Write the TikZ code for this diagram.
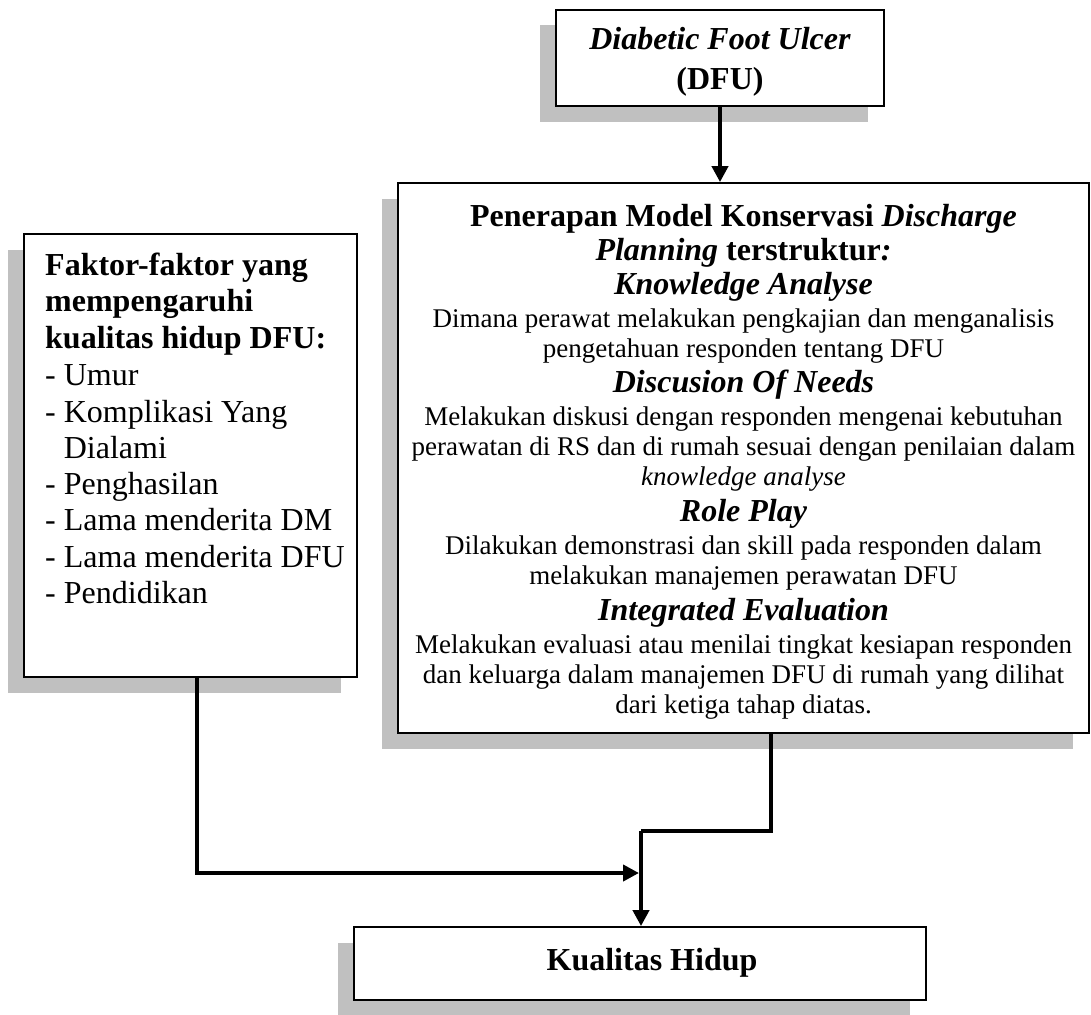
\documentclass[tikz,border=0pt]{standalone}
\usepackage{fontspec}
\setmainfont{Liberation Serif}
\usetikzlibrary{shadows,arrows.meta}
\definecolor{shgray}{RGB}{192,192,192}
\tikzset{
  box/.style={draw, line width=1.8pt, fill=white, inner sep=0pt,
    drop shadow={shadow xshift=-16.5pt, shadow yshift=-15.5pt, fill=shgray, opacity=1}},
  conn/.style={line width=4pt, line join=miter, -{Triangle[length=16pt,width=16pt]}},
  plainline/.style={line width=4pt, line join=miter},
  hd/.style={anchor=base, inner sep=0pt, font=\fontsize{32}{35}\selectfont\bfseries},
  bd/.style={anchor=base, inner sep=0pt, font=\fontsize{27}{30}\selectfont},
  lt/.style={anchor=base west, inner sep=0pt, font=\fontsize{32}{36}\selectfont},
}
\begin{document}
\begin{tikzpicture}[x=1pt,y=-1pt]
\useasboundingbox (0,0) rectangle (1091,1014);

% boxes
\node[box, minimum width=328pt, minimum height=96pt] (dfu) at (720,58) {};
\node[box, minimum width=691pt, minimum height=550pt] (main) at (743.5,458) {};
\node[box, minimum width=333pt, minimum height=443pt] (fak) at (190.5,455.5) {};
\node[box, minimum width=572pt, minimum height=73pt] (kual) at (640,963.5) {};

% DFU text
\node[anchor=base, inner sep=0pt, font=\fontsize{32}{35}\selectfont\bfseries] (d1) at (720,50) {\textit{Diabetic Foot Ulcer}};
\node[anchor=base, inner sep=0pt, font=\fontsize{32}{35}\selectfont\bfseries] (d2) at (720,90) {(DFU)};

% main box text
\node[hd] (m1) at (743.5,226) {Penerapan Model Konservasi \textit{Discharge}};
\node[hd] (m2) at (743.5,260) {\textit{Planning} terstruktur\textit{:}};
\node[hd] (m3) at (743.5,294) {\textit{Knowledge Analyse}};
\node[bd] (m4) at (743.5,327) {Dimana perawat melakukan pengkajian dan menganalisis};
\node[bd] (m5) at (743.5,357) {pengetahuan responden tentang DFU};
\node[hd] (m6) at (743.5,392) {\textit{Discusion Of Needs}};
\node[bd] (m7) at (743.5,425) {Melakukan diskusi dengan responden mengenai kebutuhan};
\node[bd] (m8) at (743.5,455) {perawatan di RS dan di rumah sesuai dengan penilaian dalam};
\node[bd] (m9) at (743.5,485) {\textit{knowledge analyse}};
\node[hd] (m10) at (743.5,521) {\textit{Role Play}};
\node[bd] (m11) at (743.5,554) {Dilakukan demonstrasi dan skill pada responden dalam};
\node[bd] (m12) at (743.5,584) {melakukan manajemen perawatan DFU};
\node[hd] (m13) at (743.5,620) {\textit{Integrated Evaluation}};
\node[bd] (m14) at (743.5,653) {Melakukan evaluasi atau menilai tingkat kesiapan responden};
\node[bd] (m15) at (743.5,683) {dan keluarga dalam manajemen DFU di rumah yang dilihat};
\node[bd] (m16) at (743.5,713) {dari ketiga tahap diatas.};

% left box text
\node[lt] (l1) at (45,275) {\bfseries Faktor-faktor yang};
\node[lt] (l2) at (45,311) {\bfseries mempengaruhi};
\node[lt] (l3) at (45,348) {\bfseries kualitas hidup DFU:};
\node[lt] (l4) at (45,385) {- Umur};
\node[lt] (l5) at (45,422) {- Komplikasi Yang};
\node[lt] (l6) at (45,458) {\hphantom{- }Dialami};
\node[lt] (l7) at (45,494) {- Penghasilan};
\node[lt] (l8) at (45,530) {- Lama menderita DM};
\node[lt] (l9) at (45,567) {- Lama menderita DFU};
\node[lt] (l10) at (45,603) {- Pendidikan};

% bottom box text
\node[anchor=base, inner sep=0pt, font=\fontsize{32}{36}\selectfont\bfseries] (k1) at (652,970) {Kualitas Hidup};

% connectors
\coordinate (mj) at (641,831);
\coordinate (lj) at (639,873);
\draw[conn] (dfu.south) -- (dfu.south |- main.north);
\draw[plainline] ([xshift=27.5pt]main.south) |- (mj);
\draw[conn] (mj) -- (mj |- kual.north);
\draw[conn] ([xshift=6.5pt]fak.south) |- (lj);
\end{tikzpicture}
\end{document}
